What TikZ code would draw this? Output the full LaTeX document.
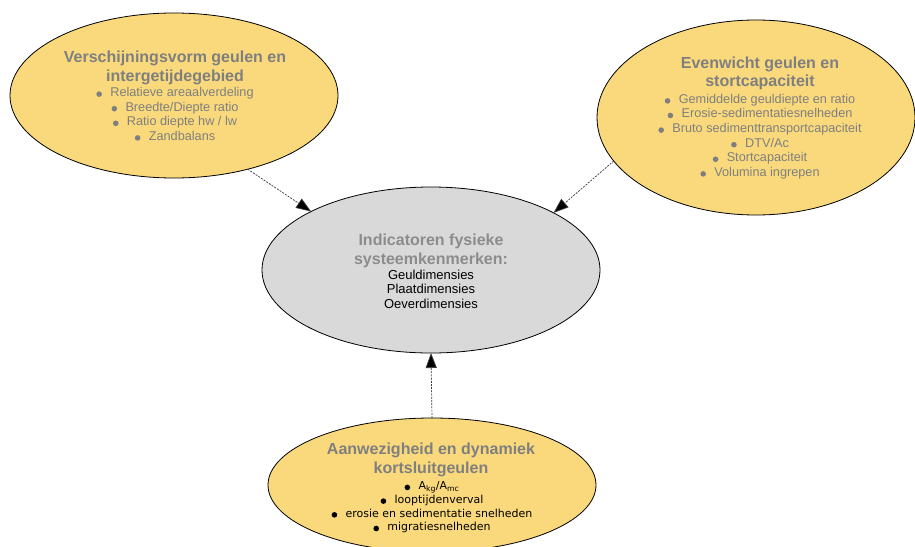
\documentclass[tikz,border=0pt]{standalone}
\usepackage{fontspec}
\setmainfont{Liberation Sans}
\newfontfamily\itemfont{DejaVu Sans}
\usetikzlibrary{shapes.geometric,arrows.meta}
\definecolor{sand}{HTML}{F9D97C}
\definecolor{cloud}{HTML}{D9D9D9}
\definecolor{slate}{HTML}{7F7F7F}
\definecolor{ink}{HTML}{3A3A3A}
% round bullet followed by the item text
\newcommand\bul[1]{\makebox[14pt][l]{\tikz[baseline=0pt]\fill[fill=.] (2.8pt,2.4pt) circle (2.8pt);}#1}
\tikzset{
  bubble/.style={ellipse, draw=black, line width=0.8pt, inner sep=0pt, outer sep=0pt},
  headline/.style={align=center, text=slate, font=\fontsize{16}{18.5}\selectfont\bfseries, inner sep=0pt},
  greylist/.style={align=center, text=slate, font=\fontsize{12.7}{14.6}\selectfont, inner sep=0pt},
  blacklist/.style={align=center, text=black, font=\fontsize{13}{14.5}\selectfont, inner sep=0pt},
  smalllist/.style={align=center, text=black, font=\itemfont\fontsize{11}{13.7}\selectfont, inner sep=0pt},
  link/.style={ink, line width=0.7pt, dash pattern=on 2pt off 1.2pt,
    -{Triangle[length=15pt,width=11pt,fill=black]}}
}
\begin{document}
\begin{tikzpicture}[x=1pt,y=-1pt]
\useasboundingbox (0,0) rectangle (915,546);
\clip (0,0) rectangle (915,546);
\fill[white] (0,0) rectangle (915,546);

% ellipses
\node[bubble, fill=sand, minimum width=328pt, minimum height=165pt] (tl) at (174,95.5) {};
\node[bubble, fill=sand, minimum width=318pt, minimum height=195pt] (tr) at (756,117.5) {};
\node[bubble, fill=cloud, minimum width=338pt, minimum height=166pt] (c) at (431,270) {};
\node[bubble, fill=sand, minimum width=328pt, minimum height=134pt] (b) at (432,485) {};

% texts, upper left
\node[headline] (tlh) at (175,68) {Verschijningsvorm geulen en\\intergetijdegebied};
\node[greylist] (tll) at (175,114) {\bul{Relatieve areaalverdeling}\\\bul{Breedte/Diepte ratio}\\\bul{Ratio diepte hw / lw}\\\bul{Zandbalans}};

% texts, upper right
\node[headline] (trh) at (760,73.5) {Evenwicht geulen en\\stortcapaciteit};
\node[greylist] (trl) at (760,136.5) {\bul{Gemiddelde geuldiepte en ratio}\\\bul{Erosie-sedimentatiesnelheden}\\\bul{Bruto sedimenttransportcapaciteit}\\\bul{DTV/Ac}\\\bul{Stortcapaciteit}\\\bul{Volumina ingrepen}};

% texts, centre
\node[headline, text=slate!90] (ch) at (431,251) {Indicatoren fysieke\\systeemkenmerken:};
\node[blacklist] (cl) at (431,289) {Geuldimensies\\Plaatdimensies\\Oeverdimensies};

% texts, bottom
\node[headline] (bh) at (431,460) {Aanwezigheid en dynamiek\\kortsluitgeulen};
\node[smalllist] (bl) at (432,507.5) {\bul{A\textsubscript{kg}/A\textsubscript{mc}}\\\bul{looptijdenverval}\\\bul{erosie en sedimentatie snelheden}\\\bul{migratiesnelheden}};

% connectors
\draw[link] (tl.315.6) -- (c.154.4);
\draw[link] (tr.197.5) -- (c.25.8);
\draw[link] (b.north) -- (c.south);
\end{tikzpicture}
\end{document}
